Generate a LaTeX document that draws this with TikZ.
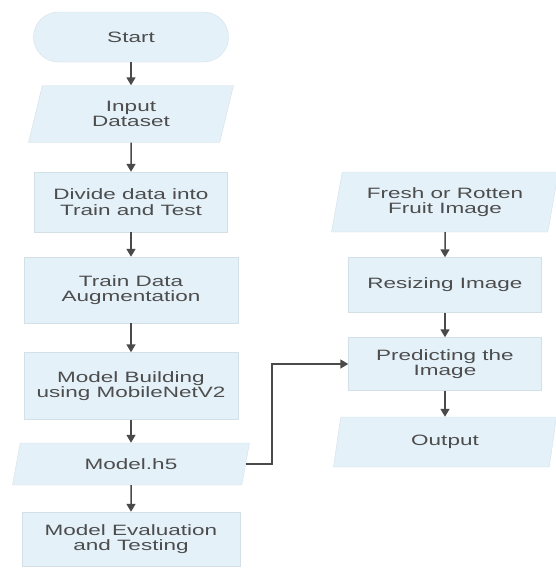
\documentclass[tikz,border=0pt]{standalone}
\usepackage{fontspec}
\setmainfont{Liberation Sans}[FakeStretch=1.5]
\usetikzlibrary{shapes.geometric, arrows.meta}
\definecolor{boxblue}{HTML}{E4F1F9}
\definecolor{boxline}{HTML}{D3E0E8}
\definecolor{txtgray}{HTML}{4D4D4D}
\definecolor{arrgray}{HTML}{4A4A4A}

\begin{document}
\begin{tikzpicture}[x = 1pt, y = -1pt,
  box/.style = {fill=boxblue, draw=boxline, text=txtgray, align=center, inner sep=0pt, font=\fontsize{15}{15.5}\selectfont},
  proc/.style = {box, rectangle},
  io/.style = {box, trapezium, trapezium left angle=62, trapezium right angle=118, trapezium stretches body},
  arr/.style = {-{Triangle[length=8pt, width=9pt]}, arrgray, line width=1.5pt}]
\useasboundingbox (0,0) rectangle (556,568);
% left column
\node [box, rounded corners=25pt, minimum width=195pt, minimum height=50pt] (start) at (131,37) {Start};
\node [io, minimum width=205pt, minimum height=57pt] (input) at (131,114) {Input\\Dataset};
\node [proc, minimum width=193pt, minimum height=60pt] (divide) at (131,202) {Divide data into\\Train and Test};
\node [proc, minimum width=214pt, minimum height=66pt] (augment) at (131,290) {Train Data\\Augmentation};
\node [proc, minimum width=214pt, minimum height=67pt] (build) at (131,386) {Model Building\\using MobileNetV2};
\node [io, trapezium left angle=55, trapezium right angle=125, minimum width=237pt, minimum height=42pt] (model) at (131,464) {Model.h5};
\node [proc, minimum width=218pt, minimum height=54pt] (eval) at (131,539) {Model Evaluation\\and Testing};
% right column
\node [io, trapezium left angle=70, trapezium right angle=110, minimum width=227pt, minimum height=60pt] (fresh) at (445,202) {Fresh or Rotten\\Fruit Image};
\node [proc, minimum width=193pt, minimum height=55pt] (resize) at (445,285) {Resizing Image};
\node [proc, minimum width=193pt, minimum height=53pt] (predict) at (445,364) {Predicting the\\Image};
\node [io, minimum width=223pt, minimum height=50pt] (output) at (445,442) {Output};
% arrows
\draw [arr] (start) -- (input);
\draw [arr] (input) -- (divide);
\draw [arr] (divide) -- (augment);
\draw [arr] (augment) -- (build);
\draw [arr] (build) -- (model);
\draw [arr] (model) -- (eval);
\draw [arr] (fresh) -- (resize);
\draw [arr] (resize) -- (predict);
\draw [arr] (predict) -- (output);
\coordinate (bend) at (272,364);
\draw [arr] (model.east) -| (bend) -- (predict.west);
\end{tikzpicture}
\end{document}
